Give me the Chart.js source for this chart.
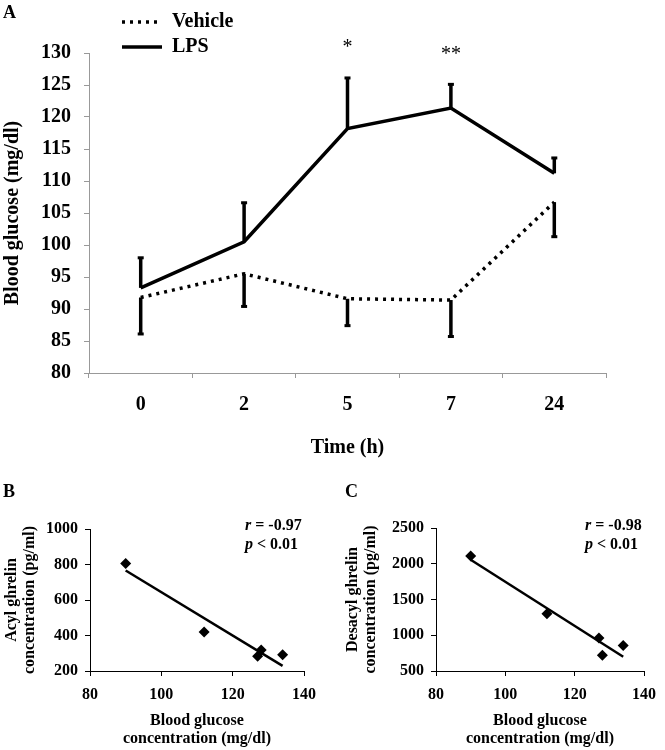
<!DOCTYPE html>
<html>
<head>
<meta charset="utf-8">
<script src="https://cdn.jsdelivr.net/npm/chart.js@4"></script>
<style>
  html, body { margin: 0; padding: 0; background: #fff; }
  body { width: 665px; height: 750px; position: relative; overflow: hidden; }
  canvas { position: absolute; }
  #chartA { left: 0; top: 0; }
  #chartB { left: 0; top: 470px; }
  #chartC { left: 335px; top: 470px; }
</style>
</head>
<body>
<canvas id="chartA" width="665" height="465"></canvas>
<canvas id="chartB" width="330" height="280"></canvas>
<canvas id="chartC" width="330" height="280"></canvas>
<script>
// panel A: blood glucose over time
const timeLabels = ["0", "2", "5", "7", "24"];
const vehicleMean = [91.8, 95.5, 91.6, 91.4, 106.7];
const vehicleSE = [5.7, 5.1, 4.2, 5.7, 5.4];
const lpsMean = [93.3, 100.5, 118.2, 121.4, 111.2];
const lpsSE = [4.7, 6.1, 7.9, 3.7, 2.4];
const sigMarks = ["", "", "*", "**", ""];

// panel B: acyl ghrelin vs glucose
const glucoseB = [90, 112, 127, 128, 134];
const acylGhrelin = [805, 420, 283, 318, 292];
const acylFitX = [90, 134];
const acylFitY = [766, 229];

// panel C: desacyl ghrelin vs glucose
const glucoseC = [90, 112, 127, 128, 134];
const desacylGhrelin = [2110, 1300, 960, 720, 855];
const desacylFitX = [90, 134];
const desacylFitY = [2055, 700];

const FONT = '"Liberation Serif", "Times New Roman", serif';
Chart.defaults.font.family = FONT;
Chart.defaults.color = "#000";

const errorBars = {
    id: "errorBars",
    afterDatasetsDraw(chart) {
        const ctx = chart.ctx;
        const yScale = chart.scales.y;
        chart.data.datasets.forEach((ds, i) => {
            const meta = chart.getDatasetMeta(i);
            meta.data.forEach((pt, j) => {
                const y0 = yScale.getPixelForValue(ds.data[j]);
                const y1 = yScale.getPixelForValue(ds.data[j] + ds.errDir * ds.errors[j]);
                ctx.save();
                ctx.strokeStyle = "#000";
                ctx.fillStyle = "#000";
                ctx.lineWidth = 3.5;
                ctx.beginPath();
                ctx.moveTo(pt.x, y0);
                ctx.lineTo(pt.x, y1);
                ctx.stroke();
                ctx.fillRect(pt.x - 3, y1 - 1.5, 6, 3);
                ctx.restore();
            });
        });
    }
};

const extrasA = {
    id: "extrasA",
    afterDraw(chart) {
        const ctx = chart.ctx;
        const x = chart.scales.x, y = chart.scales.y;
        ctx.save();
        ctx.fillStyle = "#000";
        ctx.strokeStyle = "#000";
        ctx.textBaseline = "middle";
        ctx.font = "bold 18px " + FONT;
        ctx.fillText("A", 3, 13);

        // legend
        ctx.lineWidth = 3.5;
        ctx.setLineDash([3, 5]);
        ctx.beginPath(); ctx.moveTo(122, 22); ctx.lineTo(162, 22); ctx.stroke();
        ctx.setLineDash([]);
        ctx.beginPath(); ctx.moveTo(122, 47); ctx.lineTo(162, 47); ctx.stroke();
        ctx.font = "bold 20px " + FONT;
        ctx.fillText("Vehicle", 172, 22);
        ctx.fillText("LPS", 172, 47);

        // significance marks
        ctx.font = "20px " + FONT;
        ctx.textAlign = "center";
        sigMarks.forEach((m, i) => {
            if (!m) return;
            const px = x.getPixelForValue(i);
            const py = y.getPixelForValue(lpsMean[i] + lpsSE[i]) - 30;
            ctx.fillText(m, px, py);
        });
        ctx.restore();
    }
};

new Chart(document.getElementById("chartA"), {
    type: "line",
    data: {
        labels: timeLabels,
        datasets: [{
            label: "Vehicle",
            data: vehicleMean,
            errors: vehicleSE,
            errDir: -1,
            borderColor: "#000",
            borderWidth: 3.5,
            borderDash: [3, 5],
            pointRadius: 0,
            tension: 0
        }, {
            label: "LPS",
            data: lpsMean,
            errors: lpsSE,
            errDir: 1,
            borderColor: "#000",
            borderWidth: 3.5,
            pointRadius: 0,
            tension: 0
        }]
    },
    options: {
        responsive: false,
        animation: false,
        devicePixelRatio: 1,
        layout: { padding: { top: 53, right: 59, bottom: 0, left: 0 } },
        plugins: { legend: { display: false }, tooltip: { enabled: false } },
        scales: {
            x: {
                offset: true,
                grid: { offset: true, drawOnChartArea: false, tickLength: 5, color: "#999" },
                border: { color: "#999" },
                ticks: { font: { size: 20, weight: "bold" }, padding: 15 },
                title: { display: true, text: "Time (h)", font: { size: 20, weight: "bold" }, padding: { top: 0, bottom: 5 } },
                afterFit: s => { s.height = 92; }
            },
            y: {
                min: 80,
                max: 130,
                ticks: { stepSize: 5, font: { size: 20, weight: "bold" }, padding: 13 },
                grid: { drawOnChartArea: false, tickLength: 5, color: "#999" },
                border: { color: "#999" },
                title: { display: true, text: "Blood glucose (mg/dl)", font: { size: 20, weight: "bold" }, padding: { top: 1, bottom: 0 } },
                afterFit: s => { s.width = 89; }
            }
        }
    },
    plugins: [errorBars, extrasA]
});

function scatterPanel(id, letter, xs, ys, fitX, fitY, yMin, yMax, yStep, yTitle, rText, opts) {
    const extras = {
        id: "extras" + letter,
        afterDraw(chart) {
            const ctx = chart.ctx;
            ctx.save();
            ctx.fillStyle = "#000";
            ctx.textBaseline = "middle";
            ctx.font = "bold 18px " + FONT;
            ctx.fillText(letter, opts.letterX, 22);
            let tx = opts.noteX;
            ctx.font = "italic bold 16px " + FONT;
            ctx.fillText("r", tx, 56);
            let w = ctx.measureText("r").width;
            ctx.font = "bold 16px " + FONT;
            ctx.fillText(" = " + rText, tx + w, 56);
            ctx.font = "italic bold 16px " + FONT;
            ctx.fillText("p", tx, 75);
            w = ctx.measureText("p").width;
            ctx.font = "bold 16px " + FONT;
            ctx.fillText(" < 0.01", tx + w, 75);
            ctx.restore();
        }
    };
    new Chart(document.getElementById(id), {
        type: "scatter",
        data: {
            datasets: [{
                data: xs.map((v, i) => ({ x: v, y: ys[i] })),
                pointStyle: "rectRot",
                pointRadius: 5.5,
                backgroundColor: "#000",
                borderColor: "#000",
                borderWidth: 0
            }, {
                type: "line",
                data: fitX.map((v, i) => ({ x: v, y: fitY[i] })),
                borderColor: "#000",
                borderWidth: 2.5,
                pointRadius: 0
            }]
        },
        options: {
            responsive: false,
            animation: false,
            devicePixelRatio: 1,
            layout: { padding: { top: opts.top, right: opts.right, bottom: 0, left: 0 } },
            plugins: { legend: { display: false }, tooltip: { enabled: false } },
            scales: {
                x: {
                    type: "linear",
                    min: 80,
                    max: 140,
                    ticks: { stepSize: 20, font: { size: 16, weight: "bold" }, padding: 9 },
                    grid: { drawOnChartArea: false, tickLength: 5, color: "#000" },
                    border: { color: "#000" },
                    title: {
                        display: true,
                        text: ["Blood glucose", "concentration (mg/dl)"],
                        font: { size: 16, weight: "bold", lineHeight: 1.15 },
                        padding: { top: 0, bottom: 1.5 }
                    },
                    afterFit: s => { s.height = 280 - opts.bottom; }
                },
                y: {
                    min: yMin,
                    max: yMax,
                    ticks: {
                        stepSize: yStep,
                        font: { size: 16, weight: "bold" },
                        padding: 7,
                        callback: v => String(v)
                    },
                    grid: { drawOnChartArea: false, tickLength: 5, color: "#000" },
                    border: { color: "#000" },
                    title: {
                        display: true,
                        text: yTitle,
                        font: { size: 16, weight: "bold", lineHeight: 1.1 },
                        padding: { top: opts.titlePad, bottom: 0 }
                    },
                    afterFit: s => { s.width = opts.left; }
                }
            }
        },
        plugins: [extras]
    });
}

scatterPanel("chartB", "B", glucoseB, acylGhrelin, acylFitX, acylFitY, 200, 1000, 200,
    ["Acyl ghrelin", "concentration (pg/ml)"], "-0.97",
    { top: 59, right: 26, bottom: 201, left: 90, titlePad: 3, letterX: 3, noteX: 245 });

scatterPanel("chartC", "C", glucoseC, desacylGhrelin, desacylFitX, desacylFitY, 500, 2500, 500,
    ["Desacyl ghrelin", "concentration (pg/ml)"], "-0.98",
    { top: 58, right: 14, bottom: 201, left: 101, titlePad: 9, letterX: 10, noteX: 250 });
</script>
</body>
</html>
